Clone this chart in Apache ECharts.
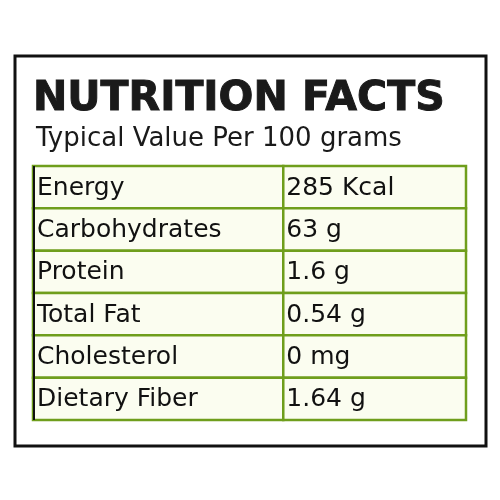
<!DOCTYPE html>
<html><head><meta charset="utf-8">
<script src="https://cdn.jsdelivr.net/npm/echarts@6/dist/echarts.min.js"></script>
<style>html,body{margin:0;background:#fff}#c{width:500px;height:500px}</style>
</head><body><div id="c"></div>
<script>
const nutrients = ['Energy','Carbohydrates','Protein','Total Fat','Cholesterol','Dietary Fiber'];
const amounts = ['285 Kcal','63 g','1.6 g','0.54 g','0 mg','1.64 g'];
const title = 'NUTRITION FACTS';
const subtitle = 'Typical Value Per 100 grams';

const SPLIT = 0.578;
const chart = echarts.init(document.getElementById('c'));
chart.setOption({
  animation:false,
  graphic:[
    {type:'rect',shape:{x:15,y:56,width:471,height:390},style:{fill:'none',stroke:'#111',lineWidth:3}},
    {type:'rect',shape:{x:33,y:166,width:2,height:254},style:{fill:'#111'},z:100}
  ],
  title:[
    {text:title,left:28,top:74,textStyle:{fontFamily:'DejaVu Sans',fontWeight:'bold',fontSize:41,color:'#1a1a1a',textBorderColor:'#1a1a1a',textBorderWidth:1}},
    {text:subtitle,left:31,top:121,textStyle:{fontFamily:'DejaVu Sans',fontWeight:'normal',fontSize:26,color:'#1a1a1a'}}
  ],
  grid:{left:33,top:166,width:433,height:254},
  xAxis:{type:'value',min:0,max:1,show:false},
  yAxis:{type:'category',data:nutrients,inverse:true,show:false},
  series:[{
    type:'custom',
    data:nutrients.map((n,i)=>[i,n,amounts[i]]),
    encode:{y:0},
    renderItem:(params,api)=>{
      const i=api.value(0);
      const p0=api.coord([0,i]);
      const p1=api.coord([SPLIT,i]);
      const p2=api.coord([1,i]);
      const h=api.size([0,1])[1];
      const top=p0[1]-h/2;
      const cellStyle={fill:'#fbfdf0',stroke:'#6f9e1c',lineWidth:2.5};
      const tStyle={fontFamily:'DejaVu Sans',fontSize:25,fill:'#111',verticalAlign:'middle'};
      return {type:'group',children:[
        {type:'rect',shape:{x:p0[0],y:top,width:p1[0]-p0[0],height:h},style:cellStyle},
        {type:'rect',shape:{x:p1[0],y:top,width:p2[0]-p1[0],height:h},style:cellStyle},
        {type:'text',style:Object.assign({x:p0[0]+4,y:p0[1]+1,text:nutrients[i]},tStyle)},
        {type:'text',style:Object.assign({x:p1[0]+3,y:p0[1]+1,text:amounts[i]},tStyle)}
      ]};
    }
  }]
});
</script></body></html>
